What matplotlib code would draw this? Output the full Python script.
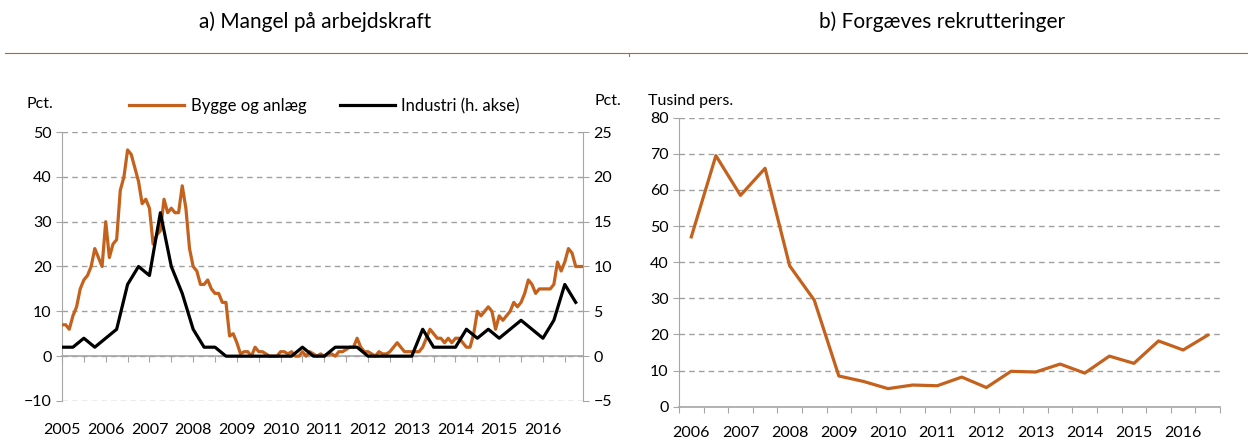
import matplotlib
matplotlib.use('Agg')
import matplotlib.pyplot as plt
from matplotlib.lines import Line2D

plt.rcParams['font.family'] = ['Lato', 'DejaVu Sans']

# a) Mangel på arbejdskraft, månedlig 2005M1-2016M12 (pct.)
bygge = [7, 7, 6, 9, 11, 15, 17, 18, 20, 24, 22, 20,
         30, 22, 25, 26, 37, 40, 46, 45, 42, 39, 34, 35,
         33, 25, 27, 28, 35, 32, 33, 32, 32, 38, 33, 24,
         20, 19, 16, 16, 17, 15, 14, 14, 12, 12, 4.5, 5,
         3, 0.5, 1, 1, 0, 2, 1, 1, 0.5, 0, 0, 0,
         1, 1, 0.5, 1, 0, 0, 1, 0, 1, 0.5, 0, 0.5,
         0, 0.5, 0.5, 0, 1, 1, 1.5, 2, 2, 4, 2, 1,
         1, 0.5, 0, 1, 0.5, 0.5, 1, 2, 3, 2, 1, 1,
         1, 1, 1, 2, 4, 6, 5, 4, 4, 3, 4, 3,
         4, 4, 3, 2, 2, 5, 10, 9, 10, 11, 10, 6,
         9, 8, 9, 10, 12, 11, 12, 14, 17, 16, 14, 15,
         15, 15, 15, 16, 21, 19, 21, 24, 23, 20, 20, 20]
# kvartalsvis 2005K1-2016K4 (pct., h. akse)
industri = [1, 1, 2, 1,
            2, 3, 8, 10,
            9, 16, 10, 7,
            3, 1, 1, 0,
            0, 0, 0, 0,
            0, 0, 1, 0,
            0, 1, 1, 1,
            0, 0, 0, 0,
            0, 3, 1, 1,
            1, 3, 2, 3,
            2, 3, 4, 3,
            2, 4, 8, 6]
aar_a = list(range(2005, 2017))

# b) Forgæves rekrutteringer, halvårlig 2006H1-2016H2 (tusind pers.)
rekrut = [47, 69.5, 58.5, 66, 39, 29.5, 8.5, 7, 5, 6, 5.8,
          8.2, 5.3, 9.8, 9.6, 11.8, 9.3, 14, 12, 18.2, 15.7, 19.8]
aar_b = list(range(2006, 2017))

orange = '#C4621D'
grid_c = '#A0A0A0'
spine_c = '#A6A6A6'
fs = 11.5

W, H = 1248, 441
fig = plt.figure(figsize=(W / 100, H / 100), dpi=100)

# ---------- panel a ----------
ax = fig.add_axes([62 / W, 1 - 401 / H, 521 / W, 269 / H])
t_m = [2005 + i / 12 for i in range(len(bygge))]
t_q = [2005 + 3 * i / 12 for i in range(len(industri))]
ax.plot(t_m, bygge, color=orange, lw=2.3, label='Bygge og anlæg', zorder=3)
ax.set_xlim(2005, t_m[-1])
ax.set_ylim(-10, 50)
ax.set_yticks(range(-10, 51, 10))
ax.yaxis.grid(True, linestyle=(0, (4, 3)), color=grid_c, lw=1)
ax.set_axisbelow(True)
for s in ['top', 'right']:
    ax.spines[s].set_visible(False)
ax.spines['left'].set_color(spine_c)
ax.spines['bottom'].set_position(('data', 0))
ax.spines['bottom'].set_color(spine_c)
ax.spines['bottom'].set_linewidth(1.2)
half = [2005 + i / 2 for i in range(24)]
ax.set_xticks(half)
ax.set_xticklabels([str(int(h)) if h == int(h) else '' for h in half])
ax.tick_params(axis='x', length=4, color=spine_c, pad=44, labelsize=fs)
ax.tick_params(axis='y', length=4, color=spine_c, labelsize=fs)

ax2 = ax.twinx()
ax2.plot(t_q, industri, color='black', lw=2.3, label='Industri (h. akse)', zorder=4)
ax2.set_ylim(-5, 25)
ax2.set_yticks(range(-5, 26, 5))
for s in ['top', 'left', 'bottom']:
    ax2.spines[s].set_visible(False)
ax2.spines['right'].set_color(spine_c)
ax2.tick_params(axis='y', length=4, color=spine_c, labelsize=fs)

h1, l1 = ax.get_legend_handles_labels()
h2, l2 = ax2.get_legend_handles_labels()
fig.legend(h1 + h2, l1 + l2, loc='center left', ncol=2, frameon=False,
           bbox_to_anchor=(129 / W, 1 - 106 / H), borderpad=0, borderaxespad=0,
           handlelength=3.3, handletextpad=0.4, columnspacing=2.0, fontsize=12)

fig.text(27 / W, 1 - 104 / H, 'Pct.', fontsize=fs, va='center', ha='left')
fig.text(595 / W, 1 - 101 / H, 'Pct.', fontsize=fs, va='center', ha='left')
fig.text(315 / W, 1 - 22 / H, 'a) Mangel på arbejdskraft', fontsize=15,
         ha='center', va='center')

# ---------- panel b ----------
bx = fig.add_axes([679 / W, 1 - 406.7 / H, 541 / W, 289 / H])
kat = list(range(len(rekrut)))
bx.plot(kat, rekrut, color=orange, lw=2.3, zorder=3)
bx.set_xlim(-0.5, len(rekrut) - 0.5)
bx.set_ylim(0, 80)
bx.set_yticks(range(0, 81, 10))
bx.yaxis.grid(True, linestyle=(0, (4, 3)), color=grid_c, lw=1)
bx.set_axisbelow(True)
for s in ['top', 'right']:
    bx.spines[s].set_visible(False)
bx.spines['left'].set_color(spine_c)
bx.spines['bottom'].set_color(spine_c)
bx.spines['bottom'].set_linewidth(1.2)
bx.set_xticks([k - 0.5 for k in range(len(rekrut) + 1)])
bx.set_xticklabels([])
bx.set_xticks(kat[::2], minor=True)
bx.set_xticklabels([str(a) for a in aar_b], minor=True)
bx.tick_params(axis='x', which='major', length=4, color=spine_c)
bx.tick_params(axis='x', which='minor', length=0, pad=14, labelsize=fs)
bx.tick_params(axis='y', length=4, color=spine_c, labelsize=fs)

fig.text(648 / W, 1 - 101 / H, 'Tusind pers.', fontsize=fs, va='center', ha='left')
fig.text(942 / W, 1 - 22 / H, 'b) Forgæves rekrutteringer', fontsize=15,
         ha='center', va='center')

# skillelinje under overskrifterne
fig.add_artist(Line2D([5 / W, 1], [1 - 53 / H, 1 - 53 / H], color=orange, lw=0.8))
fig.add_artist(Line2D([629 / W, 629 / W], [1 - 53 / H, 1 - 56 / H], color=orange, lw=0.8))

fig.savefig('out.png', dpi=100)
